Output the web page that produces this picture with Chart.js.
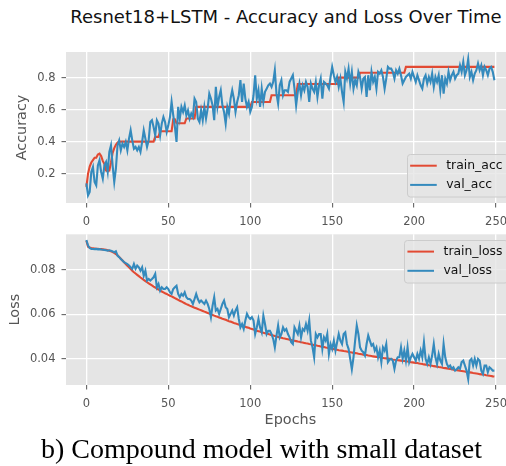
<!DOCTYPE html>
<html><head><meta charset="utf-8">
<script src="https://cdn.jsdelivr.net/npm/chart.js@4.4.0/dist/chart.umd.min.js"></script>
<style>
html,body{margin:0;padding:0;background:#fff;width:506px;height:466px;overflow:hidden;position:relative}
canvas{position:absolute;left:0}
#title{position:absolute;left:0;width:572px;top:6.5px;text-align:center;font-family:'DejaVu Sans';font-size:18px;line-height:20px;color:#111;white-space:nowrap}
#caption{position:absolute;left:0;width:523px;top:433px;text-align:center;font-family:'Liberation Serif';font-size:28px;line-height:32px;color:#000;white-space:nowrap}
</style></head><body>
<div id="title">Resnet18+LSTM - Accuracy and Loss Over Time</div>
<canvas id="acc" width="530" height="230" style="top:0"></canvas>
<canvas id="loss" width="530" height="210" style="top:220px"></canvas>
<div id="caption">b) Compound model with small dataset</div>
<script>
const epochs = Array.from({length: 250}, (_, i) => i);

const trainAcc = [
0.117,0.20,0.245,0.27,0.285,0.30,0.30,0.32,0.325,0.31,
0.28,0.26,0.22,0.215,0.22,0.27,0.33,0.36,0.38,0.395,
0.40,0.40,0.40,0.40,0.40,0.40,0.40,0.40,0.40,0.40,
0.40,0.40,0.40,0.40,0.40,0.40,0.40,0.40,0.40,0.40,
0.40,0.40,0.43,0.43,0.43,0.465,0.465,0.465,0.465,0.465,
0.465,0.465,0.465,0.54,0.54,0.515,0.515,0.515,0.515,0.515,
0.515,0.545,0.545,0.545,0.545,0.545,0.545,0.617,0.617,0.617,
0.617,0.617,0.617,0.617,0.617,0.617,0.617,0.617,0.617,0.617,
0.617,0.617,0.617,0.617,0.617,0.617,0.617,0.617,0.617,0.617,
0.617,0.617,0.617,0.617,0.617,0.617,0.617,0.617,0.617,0.617,
0.617,0.648,0.648,0.648,0.648,0.648,0.648,0.648,0.648,0.648,
0.648,0.648,0.648,0.69,0.69,0.69,0.69,0.69,0.69,0.69,
0.69,0.69,0.69,0.69,0.69,0.69,0.69,0.69,0.69,0.76,
0.76,0.76,0.76,0.76,0.76,0.76,0.76,0.76,0.76,0.76,
0.76,0.76,0.76,0.76,0.76,0.76,0.76,0.76,0.76,0.76,
0.76,0.76,0.76,0.76,0.80,0.80,0.80,0.80,0.80,0.80,
0.80,0.80,0.80,0.80,0.80,0.80,0.80,0.83,0.83,0.83,
0.83,0.83,0.83,0.83,0.83,0.83,0.83,0.83,0.83,0.83,
0.83,0.83,0.83,0.83,0.83,0.83,0.83,0.83,0.83,0.83,
0.83,0.83,0.83,0.83,0.83,0.867,0.867,0.867,0.867,0.867,
0.867,0.867,0.867,0.867,0.867,0.867,0.867,0.867,0.867,0.867,
0.867,0.867,0.867,0.867,0.867,0.867,0.867,0.867,0.867,0.867,
0.867,0.867,0.867,0.867,0.867,0.867,0.867,0.867,0.867,0.867,
0.867,0.867,0.867,0.867,0.867,0.867,0.867,0.867,0.867,0.867,
0.867,0.867,0.867,0.867,0.867,0.867,0.867,0.867,0.867,0.867
];

const valAcc = [
0.14,0.065,0.086,0.211,0.242,0.148,0.127,0.252,0.284,0.211,
0.169,0.252,0.273,0.211,0.336,0.377,0.252,0.148,0.231,0.377,
0.408,0.346,0.388,0.367,0.398,0.346,0.419,0.471,0.408,0.356,
0.367,0.346,0.367,0.336,0.398,0.471,0.419,0.367,0.408,0.523,
0.534,0.492,0.440,0.534,0.513,0.440,0.513,0.554,0.523,0.461,
0.502,0.554,0.648,0.565,0.492,0.398,0.617,0.544,0.617,0.586,
0.627,0.565,0.596,0.544,0.575,0.554,0.669,0.648,0.544,0.523,
0.596,0.534,0.617,0.544,0.606,0.700,0.669,0.627,0.534,0.742,
0.617,0.679,0.721,0.627,0.586,0.513,0.617,0.575,0.669,0.721,
0.669,0.586,0.648,0.690,0.784,0.648,0.763,0.669,0.617,0.648,
0.586,0.617,0.690,0.815,0.669,0.721,0.617,0.731,0.648,0.711,
0.731,0.752,0.763,0.742,0.773,0.846,0.700,0.638,0.752,0.784,
0.690,0.721,0.721,0.711,0.773,0.794,0.815,0.731,0.627,0.711,
0.763,0.690,0.752,0.721,0.773,0.742,0.648,0.763,0.731,0.711,
0.773,0.679,0.752,0.794,0.669,0.773,0.763,0.752,0.731,0.804,
0.867,0.815,0.773,0.804,0.742,0.794,0.711,0.648,0.836,0.794,
0.856,0.763,0.836,0.731,0.784,0.752,0.836,0.804,0.731,0.794,
0.804,0.679,0.815,0.721,0.836,0.773,0.804,0.731,0.836,0.825,
0.846,0.804,0.731,0.794,0.867,0.856,0.856,0.836,0.794,0.846,
0.825,0.856,0.815,0.763,0.784,0.804,0.815,0.825,0.794,0.836,
0.804,0.773,0.815,0.784,0.752,0.731,0.794,0.815,0.763,0.804,
0.773,0.825,0.742,0.804,0.773,0.815,0.721,0.815,0.700,0.794,
0.763,0.836,0.784,0.815,0.836,0.794,0.815,0.825,0.877,0.836,
0.898,0.815,0.846,0.915,0.804,0.836,0.784,0.825,0.846,0.888,
0.846,0.877,0.815,0.867,0.846,0.815,0.856,0.867,0.836,0.784
];

const trainLoss = [
0.0932,0.0905,0.0901,0.0899,0.0898,0.0897,0.0896,0.0896,0.0895,0.0894,
0.0893,0.0892,0.0891,0.0889,0.0887,0.0884,0.0881,0.0877,0.0872,0.0866,
0.0859,0.0851,0.0843,0.0835,0.0827,0.0819,0.0812,0.0804,0.0797,0.0790,
0.0784,0.0778,0.0772,0.0766,0.0761,0.0755,0.0750,0.0745,0.0740,0.0735,
0.0730,0.0725,0.0721,0.0716,0.0712,0.0707,0.0703,0.0699,0.0695,0.0692,
0.0688,0.0684,0.0681,0.0677,0.0673,0.0669,0.0665,0.0661,0.0658,0.0654,
0.0650,0.0646,0.0643,0.0639,0.0636,0.0633,0.0630,0.0627,0.0624,0.0621,
0.0618,0.0615,0.0612,0.0609,0.0606,0.0603,0.0600,0.0597,0.0594,0.0591,
0.0589,0.0586,0.0583,0.0580,0.0578,0.0575,0.0572,0.0569,0.0567,0.0564,
0.0561,0.0559,0.0556,0.0554,0.0551,0.0549,0.0546,0.0544,0.0541,0.0539,
0.0536,0.0534,0.0531,0.0529,0.0526,0.0524,0.0522,0.0519,0.0517,0.0515,
0.0513,0.0511,0.0509,0.0506,0.0504,0.0502,0.0500,0.0498,0.0496,0.0494,
0.0492,0.0491,0.0489,0.0487,0.0485,0.0484,0.0482,0.0481,0.0479,0.0477,
0.0476,0.0474,0.0473,0.0471,0.0469,0.0468,0.0466,0.0465,0.0463,0.0461,
0.0460,0.0458,0.0457,0.0455,0.0454,0.0452,0.0450,0.0449,0.0447,0.0446,
0.0444,0.0443,0.0441,0.0440,0.0438,0.0437,0.0436,0.0434,0.0433,0.0432,
0.0430,0.0429,0.0428,0.0426,0.0425,0.0424,0.0422,0.0421,0.0420,0.0418,
0.0417,0.0416,0.0414,0.0413,0.0412,0.0410,0.0409,0.0408,0.0407,0.0406,
0.0404,0.0403,0.0402,0.0401,0.0400,0.0399,0.0398,0.0396,0.0395,0.0394,
0.0393,0.0392,0.0391,0.0390,0.0389,0.0388,0.0387,0.0386,0.0384,0.0383,
0.0382,0.0381,0.0380,0.0378,0.0377,0.0376,0.0374,0.0373,0.0372,0.0370,
0.0369,0.0368,0.0366,0.0365,0.0364,0.0362,0.0361,0.0360,0.0358,0.0357,
0.0356,0.0354,0.0353,0.0352,0.0350,0.0349,0.0348,0.0347,0.0345,0.0344,
0.0343,0.0342,0.0340,0.0339,0.0338,0.0337,0.0335,0.0334,0.0333,0.0332,
0.0330,0.0329,0.0328,0.0327,0.0325,0.0324,0.0323,0.0322,0.0320,0.0319
];

const valLoss = [
0.0935,0.0910,0.0899,0.0895,0.0895,0.0894,0.0895,0.0893,0.0894,0.0892,
0.0891,0.0890,0.0889,0.0887,0.0889,0.0887,0.0884,0.0880,0.0884,0.0865,
0.0858,0.0850,0.0843,0.0835,0.0831,0.0827,0.0820,0.0812,0.0805,0.0827,
0.0805,0.0820,0.0812,0.0797,0.0812,0.0774,0.0797,0.0752,0.0759,0.0752,
0.0759,0.0767,0.0782,0.0722,0.0737,0.0707,0.0722,0.0714,0.0714,0.0722,
0.0714,0.0699,0.0692,0.0714,0.0722,0.0729,0.0692,0.0677,0.0692,0.0684,
0.0699,0.0677,0.0669,0.0669,0.0662,0.0647,0.0669,0.0692,0.0669,0.0654,
0.0662,0.0654,0.0647,0.0662,0.0647,0.0624,0.0587,0.0639,0.0677,0.0617,
0.0624,0.0602,0.0624,0.0647,0.0662,0.0632,0.0624,0.0587,0.0602,0.0617,
0.0594,0.0617,0.0632,0.0579,0.0541,0.0556,0.0534,0.0572,0.0602,0.0587,
0.0579,0.0587,0.0572,0.0511,0.0541,0.0579,0.0541,0.0519,0.0594,0.0556,
0.0511,0.0526,0.0526,0.0511,0.0489,0.0451,0.0504,0.0549,0.0496,0.0511,
0.0541,0.0526,0.0534,0.0511,0.0496,0.0474,0.0466,0.0541,0.0526,0.0511,
0.0549,0.0496,0.0534,0.0526,0.0556,0.0526,0.0572,0.0481,0.0451,0.0406,
0.0511,0.0496,0.0511,0.0511,0.0444,0.0496,0.0481,0.0511,0.0421,0.0466,
0.0444,0.0481,0.0436,0.0474,0.0511,0.0481,0.0466,0.0511,0.0519,0.0466,
0.0444,0.0399,0.0352,0.0406,0.0481,0.0549,0.0511,0.0451,0.0436,0.0429,
0.0414,0.0466,0.0504,0.0481,0.0459,0.0466,0.0436,0.0451,0.0406,0.0436,
0.0384,0.0451,0.0436,0.0466,0.0384,0.0395,0.0399,0.0391,0.0354,0.0391,
0.0406,0.0406,0.0451,0.0399,0.0436,0.0391,0.0451,0.0384,0.0406,0.0421,
0.0406,0.0391,0.0421,0.0399,0.0436,0.0406,0.0474,0.0399,0.0376,0.0406,
0.0376,0.0414,0.0466,0.0406,0.0376,0.0421,0.0391,0.0376,0.0466,0.0406,
0.0376,0.0361,0.0369,0.0354,0.0361,0.0346,0.0352,0.0361,0.0354,0.0384,
0.0391,0.0369,0.0346,0.0308,0.0391,0.0399,0.0369,0.0399,0.0369,0.0399,
0.0391,0.0346,0.0331,0.0369,0.0369,0.0339,0.0361,0.0354,0.0346,0.0346
];

const xTicks = [0, 50, 100, 150, 200, 250];
const accTicks = [0.2, 0.4, 0.6, 0.8];
const lossTicks = [0.04, 0.06, 0.08];
const accLabels = ['train_acc', 'val_acc'];
const lossLabels = ['train_loss', 'val_loss'];

const RED = '#E24A33', BLUE = '#348ABD', TXT = '#555555';

const bgPlugin = {
  id: 'bg',
  beforeDraw(c) {
    const a = c.chartArea, ctx = c.ctx;
    ctx.save();
    ctx.fillStyle = '#E5E5E5';
    ctx.fillRect(a.left, a.top, a.right - a.left, a.bottom - a.top);
    ctx.restore();
  }
};

const legendPlugin = {
  id: 'mplLegend',
  afterDatasetsDraw(c, args, o) {
    const a = c.chartArea, ctx = c.ctx;
    ctx.save();
    ctx.font = '12.4px "DejaVu Sans"';
    const items = c.data.datasets.map(d => ({label: d.label, color: d.borderColor}));
    const tw = Math.max(...items.map(i => ctx.measureText(i.label).width));
    const h = 42.5;
    const right = a.right - 7.3;
    const w = 39.5 + tw + 5;
    const left = right - w;
    const top = o.loc === 'upper' ? a.top + 5.8 : a.bottom - 6.3 - h;
    ctx.beginPath();
    ctx.roundRect(Math.round(left) + 0.5, Math.round(top) + 0.5, w, h, 3);
    ctx.fillStyle = 'rgba(229,229,229,0.8)';
    ctx.fill();
    ctx.strokeStyle = '#CCCCCC';
    ctx.lineWidth = 1;
    ctx.stroke();
    items.forEach((it, i) => {
      const y = top + 11.5 + i * 19.2;
      ctx.beginPath();
      ctx.moveTo(left + 3.4, y);
      ctx.lineTo(left + 30, y);
      ctx.strokeStyle = it.color;
      ctx.lineWidth = 2;
      ctx.stroke();
      ctx.fillStyle = '#111';
      ctx.textBaseline = 'middle';
      ctx.textAlign = 'left';
      ctx.fillText(it.label, left + 39.5, y);
    });
    ctx.restore();
  }
};

function makeChart(id, labels, series, yMin, yMax, yTicks, yTitle, yTitlePad, xTitle, pad, xHeight, legendLoc) {
  return new Chart(document.getElementById(id), {
    type: 'line',
    data: {
      datasets: series.map((s, i) => ({
        label: labels[i],
        data: epochs.map((e, j) => ({x: e, y: s[j]})),
        borderColor: i ? BLUE : RED,
        backgroundColor: i ? BLUE : RED,
        borderWidth: 2.1,
        pointRadius: 0,
        tension: 0,
        fill: false,
        order: 2 - i
      }))
    },
    options: {
      responsive: false,
      animation: false,
      devicePixelRatio: 1,
      layout: {padding: pad},
      plugins: {legend: {display: false}, tooltip: {enabled: false}, mplLegend: {loc: legendLoc}},
      scales: {
        x: {
          type: 'linear', min: -12.45, max: 261.45,
          afterBuildTicks: s => { s.ticks = xTicks.map(v => ({value: v})); },
          afterFit: s => { s.height = xHeight; },
          grid: {color: '#ffffff', lineWidth: 1.3, tickColor: TXT, tickLength: 4.5, tickWidth: 1},
          border: {display: false},
          ticks: {color: TXT, font: {family: 'DejaVu Sans', size: 11.5}, padding: 7.6, maxRotation: 0, autoSkip: false, callback: v => String(v)},
          title: xTitle ? {display: true, text: xTitle, color: TXT, font: {family: 'DejaVu Sans', size: 14.4}, padding: {top: 0, bottom: 1}} : {display: false}
        },
        y: {
          type: 'linear', min: yMin, max: yMax,
          afterBuildTicks: s => { s.ticks = yTicks.map(v => ({value: v})); },
          afterFit: s => { s.width = 66; },
          grid: {color: '#ffffff', lineWidth: 1.3, tickColor: TXT, tickLength: 4.5, tickWidth: 1},
          border: {display: false},
          ticks: {color: TXT, font: {family: 'DejaVu Sans', size: 11.5}, padding: 6, autoSkip: false, callback: v => String(v)},
          title: {display: true, text: yTitle, color: TXT, font: {family: 'DejaVu Sans', size: 14.4}, padding: {top: yTitlePad, bottom: 0}}
        }
      }
    },
    plugins: [bgPlugin, legendPlugin]
  });
}

makeChart('acc', accLabels, [trainAcc, valAcc], 0.017, 0.96, accTicks, 'Accuracy', 13.9, null,
  {top: 52, left: 0, right: 15.2, bottom: 0}, 27, 'lower');
makeChart('loss', lossLabels, [trainLoss, valLoss], 0.0281, 0.0961, lossTicks, 'Loss', 6.9, 'Epochs',
  {top: 14.3, left: 0, right: 15.2, bottom: 0}, 45, 'upper');
</script>
</body></html>
